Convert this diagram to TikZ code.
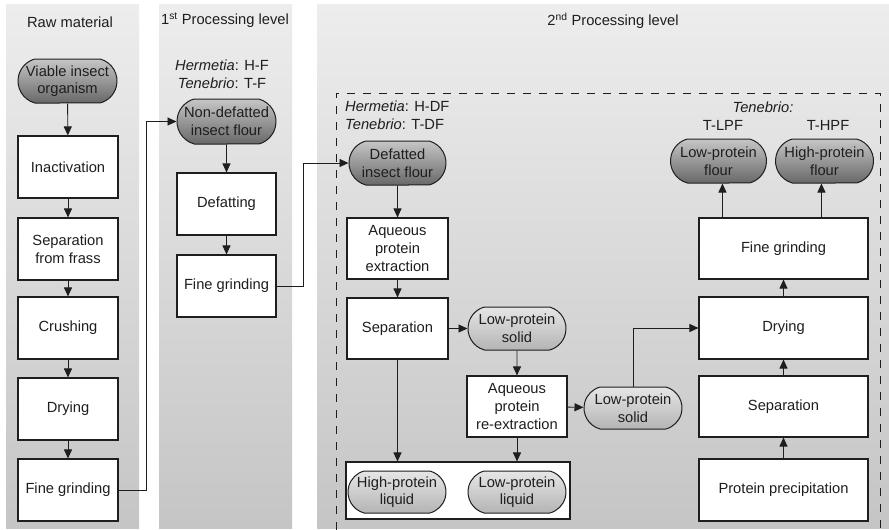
\documentclass[tikz,border=0pt]{standalone}
\usepackage{fontspec}
\setmainfont{Liberation Sans}
\usetikzlibrary{arrows.meta,shapes.misc}
\definecolor{ink}{HTML}{1E1E1E}
\definecolor{bgtop}{HTML}{EDEDED}
\definecolor{bgbot}{HTML}{C5C5C5}
\definecolor{darktop}{HTML}{C6C6C6}
\definecolor{darkbot}{HTML}{686868}
\definecolor{lighttop}{HTML}{E6E6E6}
\definecolor{lightbot}{HTML}{B4B4B4}
\begin{document}
\begin{tikzpicture}[x=1pt,y=1pt,
  every node/.style={font=\fontsize{14.7}{17.6}\selectfont, text=ink},
  stepbox/.style={draw=ink, line width=1.1pt, fill=white, rectangle, align=center,
    minimum width=100pt, minimum height=62pt, inner sep=2pt},
  darkpill/.style={draw=ink, line width=1pt, rounded rectangle, rounded rectangle arc length=150,
    top color=darktop, bottom color=darkbot, align=center,
    minimum width=100pt, minimum height=44pt, inner sep=1pt},
  lightpill/.style={draw=ink, line width=1pt, rounded rectangle, rounded rectangle arc length=150,
    top color=lighttop, bottom color=lightbot, align=center,
    minimum width=100pt, minimum height=43pt, inner sep=1pt},
  label/.style={align=center, inner sep=0pt},
  arr/.style={draw=ink, line width=0.9pt, -{Triangle[length=9pt,width=8pt]}},
]
\useasboundingbox (0,0) rectangle (889,-530);

% column backgrounds
\shade[top color=bgtop, bottom color=bgbot] (6,-4) rectangle (139,-528);
\shade[top color=bgtop, bottom color=bgbot] (159,-4) rectangle (292,-528);
\shade[top color=bgtop, bottom color=bgbot] (317,-4) rectangle (889,-528);

% column headings
\node[label] (h1) at (70,-22) {Raw material};
\node[label] (h2) at (225,-20) {1\textsuperscript{st} Processing level};
\node[label] (h3) at (613,-21) {2\textsuperscript{nd} Processing level};

% dashed frame of the second level
\draw[ink, line width=1pt, dash pattern=on 8pt off 8pt] (336,-530) -- (336,-93) -- (880,-93) -- (880,-530);

% raw material
\node[darkpill, minimum width=101pt] (viable) at (67.5,-81) {Viable insect\\organism};
\node[stepbox] (inact) at (68,-167) {Inactivation};
\node[stepbox] (sepfr) at (68,-249) {Separation\\from frass};
\node[stepbox] (crush) at (68,-328) {Crushing};
\node[stepbox] (dry1) at (68,-409) {Drying};
\node[stepbox] (fg1) at (68,-490) {Fine grinding};

% first processing level
\node[label] (flabel) at (222,-74.5) {\textit{Hermetia}: H-F\\\textit{Tenebrio}: T-F};
\node[darkpill, minimum width=101pt, minimum height=45pt] (nondef) at (226.5,-121.5) {Non-defatted\\insect flour};
\node[stepbox, minimum width=99pt] (defat) at (226.5,-204) {Defatting};
\node[stepbox, minimum width=99pt] (fg2) at (226.5,-286) {Fine grinding};

% second processing level, extraction branch
\node[label, align=left, anchor=west] (dflabel) at (345,-115.5) {\textit{Hermetia}: H-DF\\\textit{Tenebrio}: T-DF};
\node[darkpill, minimum width=99pt] (defl) at (397.5,-163) {Defatted\\insect flour};
\node[stepbox, minimum width=101pt, minimum height=61pt] (aqex) at (397.5,-248.5) {Aqueous\\protein\\extraction};
\node[stepbox, minimum width=101pt, minimum height=61pt] (sep2) at (397.5,-328.5) {Separation};
\node[lightpill] (lps1) at (517,-328.5) {Low-protein\\solid};
\node[stepbox, minimum height=61pt] (reex) at (517,-406.5) {Aqueous\\protein\\re-extraction};
\node[lightpill, minimum height=42pt] (lps2) at (633,-408) {Low-protein\\solid};
\node[draw=ink, line width=1.1pt, fill=white, minimum width=224pt, minimum height=57pt, inner sep=0pt] (liqbox) at (458,-490.5) {};
\node[lightpill, minimum height=42pt] (hpl) at (397,-492) {High-protein\\liquid};
\node[lightpill, minimum height=42pt] (lpl) at (517,-492) {Low-protein\\liquid};

% second processing level, flour branch
\node[stepbox, minimum width=169pt] (prec) at (783.5,-490) {Protein precipitation};
\node[stepbox, minimum width=169pt, minimum height=61pt] (sep3) at (783.5,-406.5) {Separation};
\node[stepbox, minimum width=169pt] (dry3) at (783.5,-328) {Drying};
\node[stepbox, minimum width=169pt, minimum height=61pt] (fg3) at (783.5,-248.5) {Fine grinding};
\node[darkpill, minimum width=98pt] (lpf) at (718.5,-161) {Low-protein\\flour};
\node[darkpill] (hpf) at (824.5,-161) {High-protein\\flour};
\node[label] (tlabel) at (763,-107) {\textit{Tenebrio:}};
\node[label] (tlpf) at (723,-125) {T-LPF};
\node[label] (thpf) at (828,-125) {T-HPF};

% raw material chain
\draw[arr] (viable) -- (inact);
\draw[arr] (inact) -- (sepfr);
\draw[arr] (sepfr) -- (crush);
\draw[arr] (crush) -- (dry1);
\draw[arr] (dry1) -- (fg1);
\draw[arr] (fg1.east) -- ++(28,0) |- (nondef.west);

% first level chain
\draw[arr] (nondef) -- (defat);
\draw[arr] (defat) -- (fg2);
\draw[arr] (fg2.east) -- ++(27,0) |- (defl.west);

% extraction chain
\draw[arr] (defl) -- (aqex);
\draw[arr] (aqex) -- (sep2);
\draw[arr] (sep2) -- (lps1);
\draw[arr] (lps1) -- (reex);
\draw[arr] (reex) -- (lps2);
\draw[arr] (sep2.south) -- (sep2.south |- liqbox.north);
\draw[arr] (reex.south) -- (reex.south |- liqbox.north);
\draw[arr] (lps2.north) |- (dry3.west);

% flour chain
\draw[arr] (prec) -- (sep3);
\draw[arr] (sep3) -- (dry3);
\draw[arr] (dry3) -- (fg3);
\draw[arr] ([xshift=24pt]fg3.north west) -- ([xshift=24pt]fg3.north west |- lpf.south);
\draw[arr] ([xshift=123pt]fg3.north west) -- ([xshift=123pt]fg3.north west |- hpf.south);
\end{tikzpicture}
\end{document}
